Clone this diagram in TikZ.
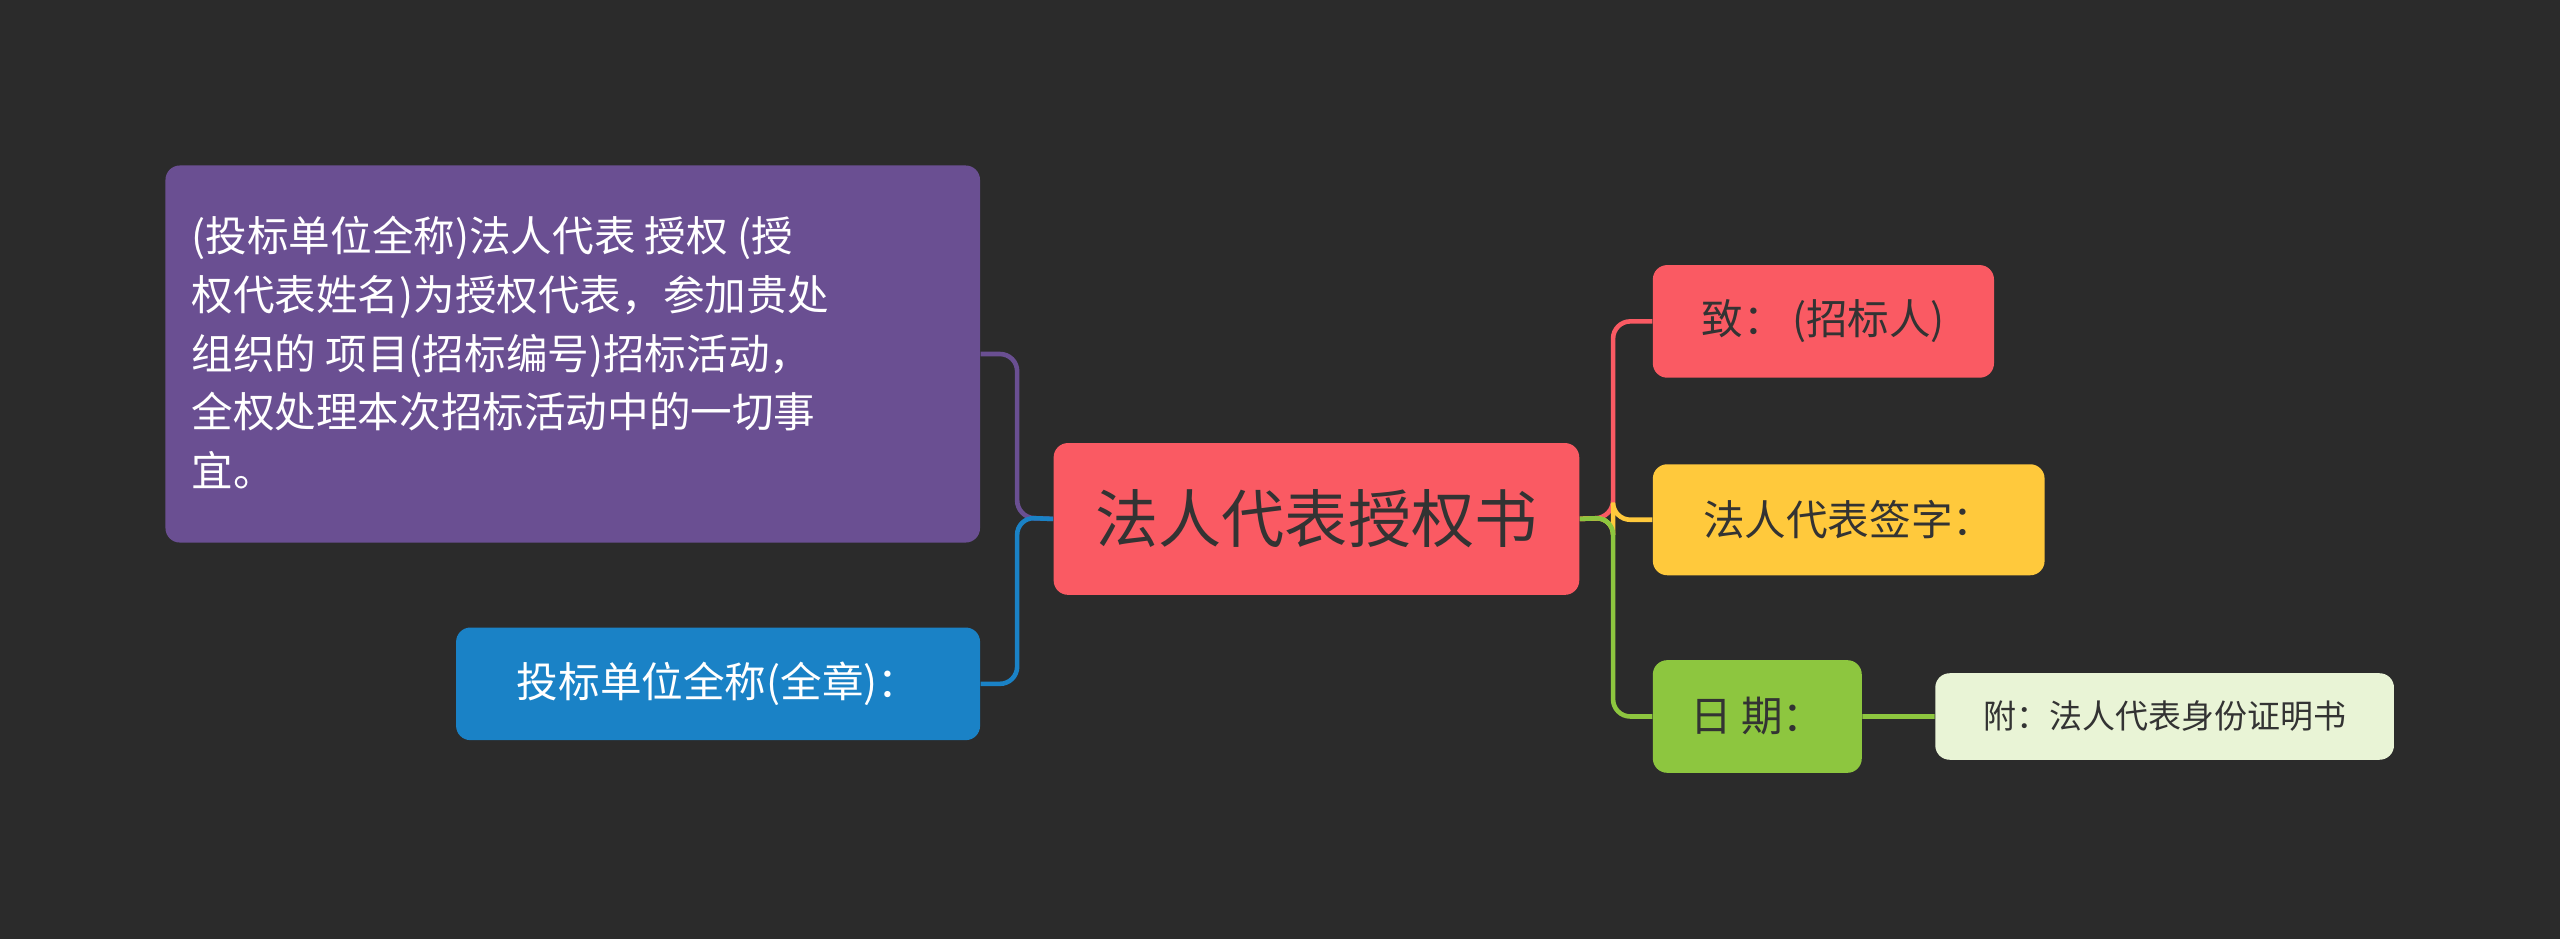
\documentclass[tikz,border=0pt]{standalone}
\usepackage{fontspec}
\setmainfont{Noto Sans CJK SC}
\definecolor{bg}{HTML}{2B2B2B}
\definecolor{redn}{HTML}{FA5A63}
\definecolor{purplen}{HTML}{6A4F92}
\definecolor{bluen}{HTML}{1A82C6}
\definecolor{yellown}{HTML}{FFC93C}
\definecolor{greenn}{HTML}{8DC63F}
\definecolor{palen}{HTML}{E9F4D6}
\definecolor{ink}{HTML}{333333}
\begin{document}
\begin{tikzpicture}[x=0.02cm, y=-0.02cm,
                    box/.style = {rounded corners=5pt, inner sep=0pt, anchor=north west},
                    link/.style = {line width=1.6pt, rounded corners=6pt}
                   ]
  \fill[bg] (0,0) rectangle (1568,575);
  \useasboundingbox (0,0) rectangle (1568,575);
  % centre
  \node[box, fill=redn, minimum width=6.44cm, minimum height=1.86cm,
        font=\fontsize{22}{26}\selectfont, text=ink] (root) at (645,271) {法人代表授权书};
  % left side
  \node[box, fill=purplen, minimum width=9.98cm, minimum height=4.62cm, text=white,
        font=\fontsize{14.5}{20.5}\selectfont] (power) at (101,101) {};
  \node[anchor=west, text=white, align=left, font=\fontsize{14.5}{20.5}\selectfont,
        inner sep=0pt] (powertxt) at (117,216)
        {(投标单位全称)法人代表 授权 (授\\权代表姓名)为授权代表，参加贵处\\组织的 项目(招标编号)招标活动，\\全权处理本次招标活动中的一切事\\宜。};
  \node[box, fill=bluen, minimum width=6.42cm, minimum height=1.38cm, text=white,
        font=\fontsize{14.5}{18}\selectfont] (seal) at (279,384) {投标单位全称(全章)：};
  % right side
  \node[box, fill=redn, minimum width=4.18cm, minimum height=1.38cm, text=ink,
        font=\fontsize{14.5}{18}\selectfont] (to) at (1012,162) {致：\,(招标人)};
  \node[box, fill=yellown, minimum width=4.8cm, minimum height=1.36cm, text=ink,
        font=\fontsize{14.5}{18}\selectfont] (sign) at (1012,284) {法人代表签字：};
  \node[box, fill=greenn, minimum width=2.56cm, minimum height=1.38cm, text=ink,
        font=\fontsize{14.5}{18}\selectfont] (date) at (1012,404) {日 期：};
  \node[box, fill=palen, minimum width=5.62cm, minimum height=1.06cm, text=ink,
        font=\fontsize{11.5}{14}\selectfont] (attach) at (1185,412) {附：法人代表身份证明书};
  \coordinate (lj) at (623,317);
  \coordinate (rj) at (988,317);
  \draw[link, purplen] (root.west) -- (lj) |- (power.east);
  \draw[link, bluen] (root.west) -- (lj) |- (seal.east);
  \draw[link, redn] (root.east) -- (rj) |- (to.west);
  \draw[link, yellown] (root.east) -- (rj) |- (sign.west);
  \draw[link, greenn] (root.east) -- (rj) |- (date.west);
  \draw[link, greenn] (date.east) -- (attach.west);
\end{tikzpicture}
\end{document}
